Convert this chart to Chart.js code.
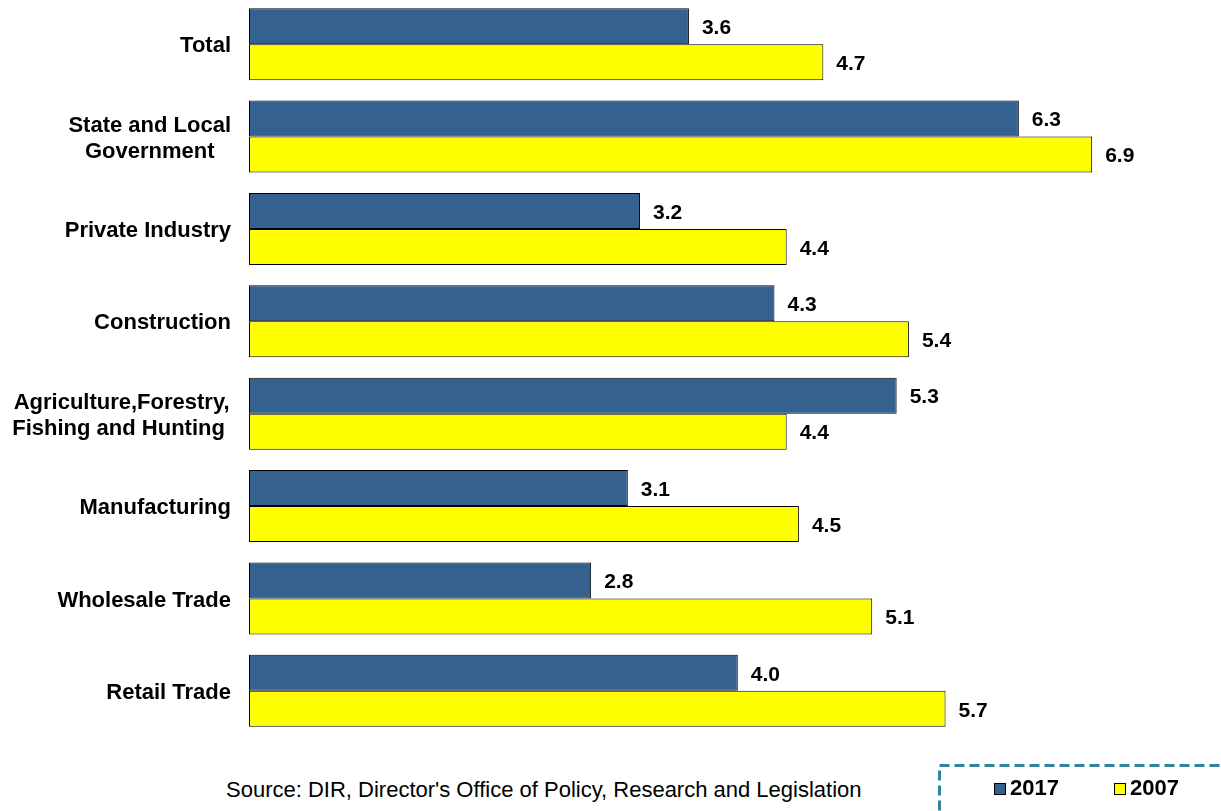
<!DOCTYPE html>
<html>
<head>
<meta charset="utf-8">
<script src="https://cdn.jsdelivr.net/npm/chart.js@4/dist/chart.umd.min.js"></script>
<style>
  html, body { margin: 0; padding: 0; background: #fff; width: 1221px; height: 811px; overflow: hidden; }
  #wrap { position: absolute; left: 0; top: -2px; width: 1221px; height: 739px; }
  #source { position: absolute; left: 226px; top: 777px; font-family: "Liberation Sans", Arial, sans-serif; font-size: 22px; color: #000; white-space: nowrap; }
  #legendBox { position: absolute; left: 0; top: 0; }
  .item { position: absolute; font-family: "Liberation Sans", Arial, sans-serif; font-weight: bold; font-size: 22px; color: #000; line-height: 24px; white-space: nowrap; }
  .sw { position: absolute; width: 10px; height: 10px; border: 1px solid #000; }
</style>
</head>
<body>
<div id="wrap"><canvas id="c"></canvas></div>
<div id="source">Source: DIR, Director's Office of Policy, Research and Legislation</div>
<svg id="legendBox" width="1221" height="811">
  <rect x="939.5" y="765.5" width="300" height="60" fill="none" stroke="#31849b" stroke-width="3" stroke-dasharray="10 5"/>
</svg>
<div id="legend"></div>
<script>
const categories = [
  ["Total"],
  ["State and Local", "Government"],
  ["Private Industry"],
  ["Construction"],
  ["Agriculture,Forestry,", "Fishing and Hunting "],
  ["Manufacturing"],
  ["Wholesale Trade"],
  ["Retail Trade"]
];
const seriesNames = ["2017", "2007"];
const values2017 = [3.6, 6.3, 3.2, 4.3, 5.3, 3.1, 2.8, 4.0];
const values2007 = [4.7, 6.9, 4.4, 5.4, 4.4, 4.5, 5.1, 5.7];
const colors = ["#35618f", "#ffff00"];

const FONT = '"Liberation Sans", Arial, sans-serif';

const labelPlugin = {
  id: 'labels',
  afterDraw(chart) {
    const ctx = chart.ctx;
    const yScale = chart.scales.y;
    const xScale = chart.scales.x;
    ctx.save();
    ctx.fillStyle = '#000';
    ctx.font = 'bold 22px ' + FONT;
    ctx.textBaseline = 'middle';
    ctx.textAlign = 'center';
    const rightEdge = chart.chartArea.left - 18;
    categories.forEach((lines, i) => {
      const y = yScale.getPixelForValue(i) + 2;
      const widths = lines.map(l => ctx.measureText(l).width);
      const maxW = Math.max(...widths);
      const cx = rightEdge - maxW / 2;
      const lh = 26;
      const startY = y - (lines.length - 1) * lh / 2;
      lines.forEach((l, j) => ctx.fillText(l, cx, startY + j * lh));
    });
    // value labels
    ctx.font = 'bold 21px ' + FONT;
    ctx.textAlign = 'left';
    chart.data.datasets.forEach((ds, di) => {
      const meta = chart.getDatasetMeta(di);
      meta.data.forEach((bar, i) => {
        const v = ds.data[i];
        const x = xScale.getPixelForValue(v) + 13;
        ctx.fillText(v.toFixed(1), x, bar.y + 2);
      });
    });
    ctx.restore();
  }
};

new Chart(document.getElementById('c'), {
  type: 'bar',
  data: {
    labels: categories,
    datasets: [
      { label: seriesNames[0], data: values2017, backgroundColor: colors[0], borderColor: '#000', borderWidth: 1, borderSkipped: false },
      { label: seriesNames[1], data: values2007, backgroundColor: colors[1], borderColor: '#000', borderWidth: 1, borderSkipped: false }
    ]
  },
  options: {
    indexAxis: 'y',
    responsive: true,
    maintainAspectRatio: false,
    animation: false,
    layout: { padding: { left: 249, right: 55.5, top: 0, bottom: 0 } },
    datasets: { bar: { categoryPercentage: 0.78, barPercentage: 1.0 } },
    scales: {
      x: { display: false, min: 0, max: 7.5 },
      y: { display: false, offset: true }
    },
    plugins: { legend: { display: false }, tooltip: { enabled: false } }
  },
  plugins: [labelPlugin]
});

// legend
const leg = document.getElementById('legend');
const swLefts = [994, 1114];
seriesNames.forEach((n, i) => {
  const s = document.createElement('div');
  s.className = 'sw';
  s.style.left = swLefts[i] + 'px';
  s.style.top = '783px';
  s.style.background = colors[i];
  leg.appendChild(s);
  const t = document.createElement('div');
  t.className = 'item';
  t.style.left = (swLefts[i] + 16) + 'px';
  t.style.top = '776px';
  t.textContent = n;
  leg.appendChild(t);
});
</script>
</body>
</html>
